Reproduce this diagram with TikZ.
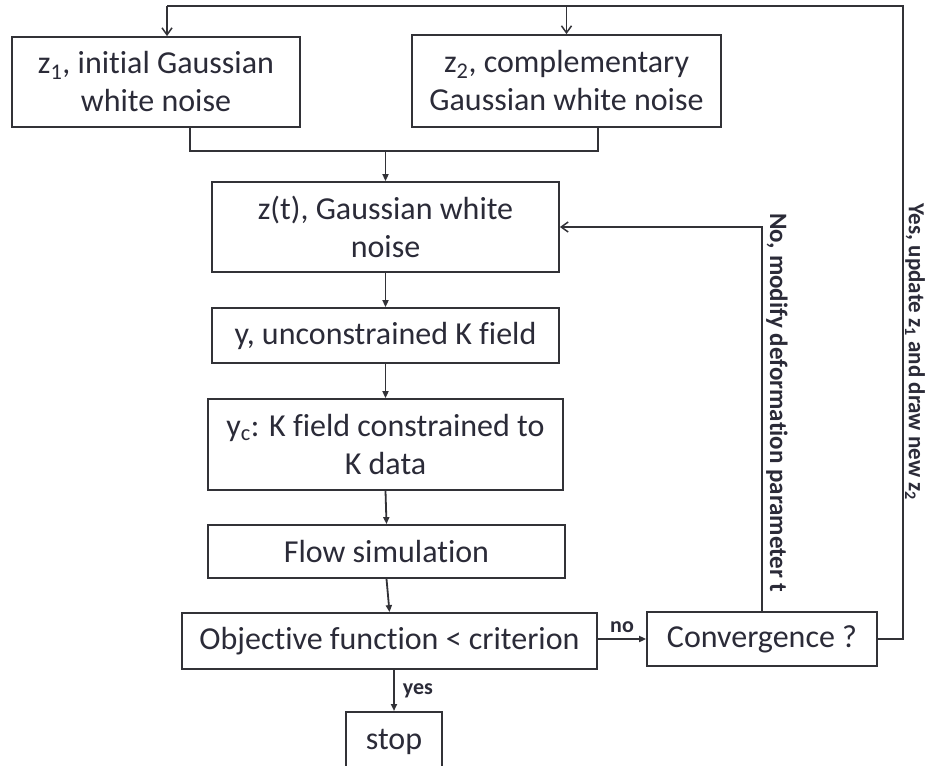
\documentclass[tikz,border=0pt]{standalone}
\usepackage{fontspec}
\setmainfont{Carlito}[Ligatures={NoCommon}]
\usetikzlibrary{arrows.meta,calc}
\definecolor{ink}{RGB}{43,43,56}
\definecolor{lin}{RGB}{50,50,55}
\begin{document}
\begin{tikzpicture}[x=1pt,y=-1pt,
  box/.style={draw=lin,line width=1.8pt,rectangle,inner sep=2pt,align=center,text=ink,
     font=\fontsize{32}{38}\selectfont},
  lab/.style={text=ink,font=\bfseries\fontsize{22}{24}\selectfont,inner sep=0pt},
  side/.style={text=ink,font=\bfseries\fontsize{25}{28}\selectfont,inner sep=0pt,rotate=-90},
  ln/.style={draw=lin,line width=1.8pt},
  arr/.style={ln,-{Straight Barb[length=7pt,width=10pt,line width=1.5pt]}},
  farr/.style={ln,-{Triangle[length=7pt,width=6pt]}}]
\useasboundingbox[fill=white] (0,0) rectangle (928,765);
\node[box,minimum width=288pt,minimum height=90pt] (z1) at (156,82) {z\textsubscript{1}, initial Gaussian\\white noise};
\node[box,minimum width=309pt,minimum height=92pt] (z2) at (566.5,81) {z\textsubscript{2}, complementary\\Gaussian white noise};
\node[box,minimum width=347pt,minimum height=90pt] (zt) at (385.5,227) {z(t), Gaussian white\\noise};
\node[box,minimum width=347pt,minimum height=55pt] (y) at (385.5,335.5) {y, unconstrained K field};
\node[box,minimum width=355pt,minimum height=91pt] (yc) at (385.5,444.5) {y\textsubscript{c}: K field constrained to\\K data};
\node[box,minimum width=357pt,minimum height=53pt] (flow) at (386.5,551.5) {Flow simulation};
\node[box,minimum width=415pt,minimum height=56pt] (obj) at (389.5,641) {Objective function < criterion};
\node[box,minimum width=230pt,minimum height=54pt] (conv) at (762,639) {Convergence ?};
\node[box,minimum width=96pt,minimum height=60pt,anchor=north] (stop) at (394,711) {stop};
% merge of z1 and z2
\coordinate (m1) at (190,151);
\coordinate (m2) at (598,151);
\draw[ln] (190,0|-z1.south) -- (m1) -- (m2) -- (598,0|-z2.south);
\draw[farr] (zt.north|-m1) -- (zt.north);
% main chain
\draw[farr] (zt.south) -- (y.north);
\draw[farr] (y.south) -- (yc.north);
\draw[farr] (yc.south) -- (flow.north);
\draw[farr] (flow.south) -- (obj.north);
\draw[farr] (obj.south-|stop.north) -- (stop.north) node[lab,midway,right=8pt] {yes};
\draw[farr] (obj.east|-conv.west) -- (conv.west) node[lab,midway,above=5pt] {no};
% no loop
\draw[arr] (conv.north) |- (zt.east);
\node[side] (nolab) at (777,403) {No, modify deformation parameter t};
% yes loop
\coordinate (tr) at (903,6);
\coordinate (tl) at (167,6);
\draw[ln] (conv.east) -| (tr) -- (tl);
\draw[arr] (tl) -- (167,0|-z1.north);
\draw[arr] (z2.north|-tl) -- (z2.north);
\node[side,font=\bfseries\fontsize{23}{26}\selectfont] (yeslab) at (915,352) {Yes, update z\textsubscript{1} and draw new z\textsubscript{2}};
\end{tikzpicture}
\end{document}
